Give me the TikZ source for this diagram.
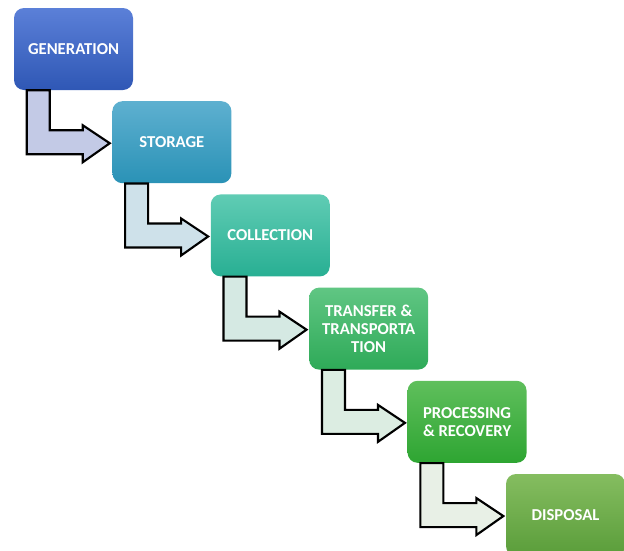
\documentclass[tikz,border=0pt]{standalone}
\usepackage{fontspec}
\setmainfont{Carlito}
\usetikzlibrary{calc}
\definecolor{gT}{HTML}{5B80D8}\definecolor{gB}{HTML}{2F57B5}
\definecolor{sT}{HTML}{5EB0D0}\definecolor{sB}{HTML}{2A92B6}
\definecolor{cT}{HTML}{60CCB4}\definecolor{cB}{HTML}{28AF93}
\definecolor{tT}{HTML}{60C683}\definecolor{tB}{HTML}{2EAA58}
\definecolor{pT}{HTML}{5FBF5C}\definecolor{pB}{HTML}{2EA532}
\definecolor{dT}{HTML}{85BD60}\definecolor{dB}{HTML}{5A9D3A}
\definecolor{aA}{HTML}{C3CAE6}\definecolor{aB}{HTML}{CEE1EA}
\definecolor{aC}{HTML}{D5E9E3}\definecolor{aD}{HTML}{DCEDE2}
\definecolor{aE}{HTML}{E8F0E6}
\tikzset{
  stagebox/.style={rounded corners=7.5pt, minimum width=89.25pt, minimum height=61.5pt,
    inner sep=0pt, text=white, align=center,
    font=\fontsize{12.5}{13.5}\selectfont\bfseries},
  bentarrow/.style={draw=black, line width=1.6pt, line join=miter},
}
\newcommand{\bentarrow}[2]{%
  \draw[bentarrow, fill=#2] ($(#1.south west)+(13,0)$) -- ++(0,64) -- ++(56,0) -- ++(0,8)
    -- ++(27,-19) -- ++(-27,-18) -- ++(0,5) -- ++(-33,0) -- ++(0,-40) -- cycle;}
\begin{document}
\begin{tikzpicture}[x=0.75pt,y=-0.75pt]
\useasboundingbox (0,0) rectangle (624,550);
\clip (0,0) rectangle (624,550);
\node[stagebox, top color=gT, bottom color=gB] (g) at (73.5,49) {GENERATION};
\node[stagebox, top color=sT, bottom color=sB] (s) at (171.9,142.2) {STORAGE};
\node[stagebox, top color=cT, bottom color=cB] (c) at (270.3,235.4) {COLLECTION};
\node[stagebox, top color=tT, bottom color=tB] (t) at (368.7,328.6) {TRANSFER \&\\TRANSPORTA\\TION};
\node[stagebox, top color=pT, bottom color=pB] (p) at (467.1,421.8) {PROCESSING\\\& RECOVERY};
\node[stagebox, top color=dT, bottom color=dB] (d) at (565.5,515) {DISPOSAL};
\bentarrow{g}{aA}
\bentarrow{s}{aB}
\bentarrow{c}{aC}
\bentarrow{t}{aD}
\bentarrow{p}{aE}
\end{tikzpicture}
\end{document}
